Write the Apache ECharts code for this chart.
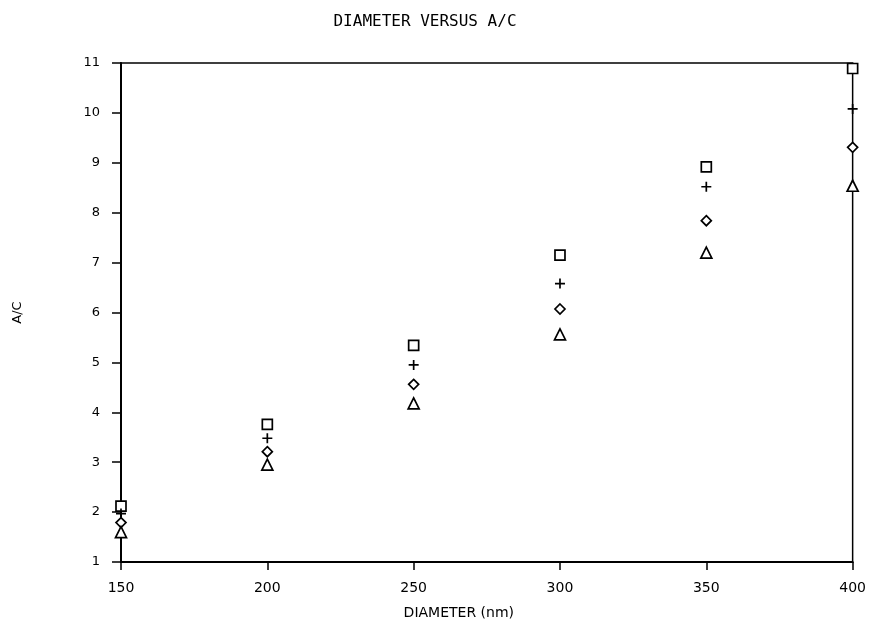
<!DOCTYPE html>
<html><head><meta charset="utf-8">
<script src="https://cdn.jsdelivr.net/npm/echarts@6/dist/echarts.min.js"></script>
<style>html,body{margin:0;padding:0;background:#fff}#c{width:869px;height:628px}</style>
</head><body><div id="c"></div>
<script>
const diameters = [150, 200, 250, 300, 350, 400];
const seriesSquare = [2.12, 3.76, 5.34, 7.15, 8.92, 10.89];
const seriesPlus = [1.97, 3.48, 4.95, 6.58, 8.52, 10.08];
const seriesDiamond = [1.79, 3.21, 4.56, 6.07, 7.84, 9.31];
const seriesTriangle = [1.60, 2.95, 4.18, 5.56, 7.20, 8.54];
const xTicks = [150, 200, 250, 300, 350, 400];
const yTicks = [1,2,3,4,5,6,7,8,9,10,11];

const pair = arr => diameters.map((d, i) => [d, arr[i]]);
const mk = (name, data, symbol, size) => ({
  name, type: 'scatter', data: pair(data), symbol, symbolSize: size,
  itemStyle: { color: '#fff', borderColor: '#000', borderWidth: 1.7, opacity: 1 },
  emphasis: { disabled: true }
});
const plusPath = 'path://M0,5L10,5M5,0L5,10';

const chart = echarts.init(document.getElementById('c'), null, { renderer: 'canvas' });
chart.setOption({
  animation: false,
  backgroundColor: '#fff',
  title: {
    text: 'DIAMETER VERSUS A/C', left: 420, top: 9, textAlign: 'center',
    textStyle: { fontFamily: 'DejaVu Sans Mono', fontSize: 16, fontWeight: 'normal', color: '#000' }
  },
  grid: { left: 121, right: 15, top: 63, bottom: 66, show: true, borderColor: '#000', borderWidth: 1.5, backgroundColor: 'transparent' },
  xAxis: {
    type: 'value', min: 150, max: 400, interval: 50,
    name: 'DIAMETER (nm)', nameLocation: 'middle', nameGap: 44,
    nameTextStyle: { fontFamily: 'DejaVu Sans', fontSize: 14, color: '#000', padding: [0, 56, 0, 0] },
    axisLine: { show: true, lineStyle: { color: '#000', width: 2 } },
    axisTick: { show: true, length: 8, inside: false, lineStyle: { color: '#000', width: 1.5 } },
    axisLabel: { color: '#000', fontFamily: 'DejaVu Sans', fontSize: 14, margin: 19,
      formatter: v => xTicks.includes(v) ? String(v) : '' },
    splitLine: { show: false }
  },
  yAxis: {
    type: 'value', min: 1, max: 11, interval: 1,
    name: 'A/C', nameLocation: 'middle', nameGap: 97, nameRotate: 90,
    nameTextStyle: { fontFamily: 'DejaVu Sans', fontSize: 13, color: '#000' },
    axisLine: { show: true, lineStyle: { color: '#000', width: 2 } },
    axisTick: { show: true, length: 9, inside: false, lineStyle: { color: '#000', width: 1.5 } },
    axisLabel: { color: '#000', fontFamily: 'DejaVu Sans', fontSize: 13, margin: 21,
      formatter: v => yTicks.includes(v) ? String(v) : '' },
    splitLine: { show: false }
  },
  series: [
    mk('square', seriesSquare, 'rect', 10),
    mk('plus', seriesPlus, plusPath, 10),
    mk('diamond', seriesDiamond, 'diamond', 10),
    mk('triangle', seriesTriangle, 'triangle', 11)
  ]
});
</script></body></html>
